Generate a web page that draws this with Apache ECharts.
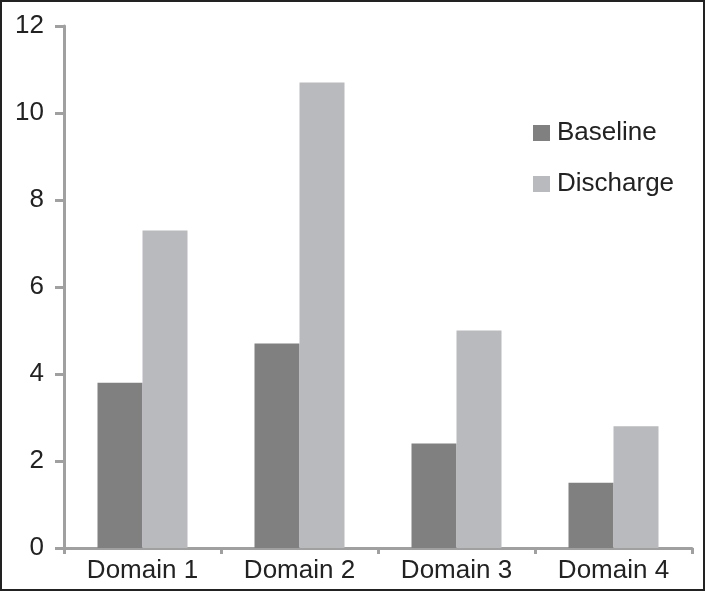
<!DOCTYPE html>
<html><head><meta charset="utf-8">
<script src="https://cdn.jsdelivr.net/npm/echarts@6/dist/echarts.min.js"></script>
<style>
html,body{margin:0;padding:0;background:#fff;}
#c{width:705px;height:591px;box-sizing:border-box;}
#frame{position:absolute;left:0;top:0;width:705px;height:591px;box-sizing:border-box;border:2px solid #222;pointer-events:none;}
</style></head>
<body>
<div id="c"></div>
<div id="frame"></div>
<script>
const categories = ['Domain 1','Domain 2','Domain 3','Domain 4'];
const baseline = [3.8, 4.7, 2.4, 1.5];
const discharge = [7.3, 10.7, 5.0, 2.8];
const seriesNames = ['Baseline','Discharge'];

const chart = echarts.init(document.getElementById('c'), null, {renderer:'canvas'});
const font = '"Liberation Sans", Arial, sans-serif';
const axisColor = '#a0a0a0';
chart.setOption({
  animation:false,
  backgroundColor:'#fff',
  grid:{left:64, right:13, top:26, bottom:43, containLabel:false},
  legend:{
    orient:'vertical', left:528, top:115, itemWidth:17, itemHeight:16, itemGap:25,
    textStyle:{fontFamily:font, fontSize:26, color:'#222', padding:[0,0,0,2]},
    icon:'rect', itemStyle:{borderWidth:0},
    data:seriesNames
  },
  xAxis:{
    type:'category', data:categories,
    axisLine:{lineStyle:{color:axisColor, width:3}},
    axisTick:{show:true, length:6, lineStyle:{color:axisColor, width:3}, alignWithLabel:false},
    axisLabel:{fontFamily:font, fontSize:26, color:'#222', margin:10}
  },
  yAxis:{
    type:'value', min:0, max:12, interval:2,
    splitLine:{show:false},
    axisLine:{show:true, lineStyle:{color:axisColor, width:3}},
    axisTick:{show:true, length:9, lineStyle:{color:axisColor, width:3}},
    axisLabel:{fontFamily:font, fontSize:26, color:'#222', margin:20}
  },
  series:[
    {name:seriesNames[0], type:'bar', data:baseline, barWidth:45, barGap:'0%', itemStyle:{color:'#808081'}},
    {name:seriesNames[1], type:'bar', data:discharge, barWidth:45, barGap:'0%', itemStyle:{color:'#b9babd'}}
  ]
});
</script>
</body></html>
